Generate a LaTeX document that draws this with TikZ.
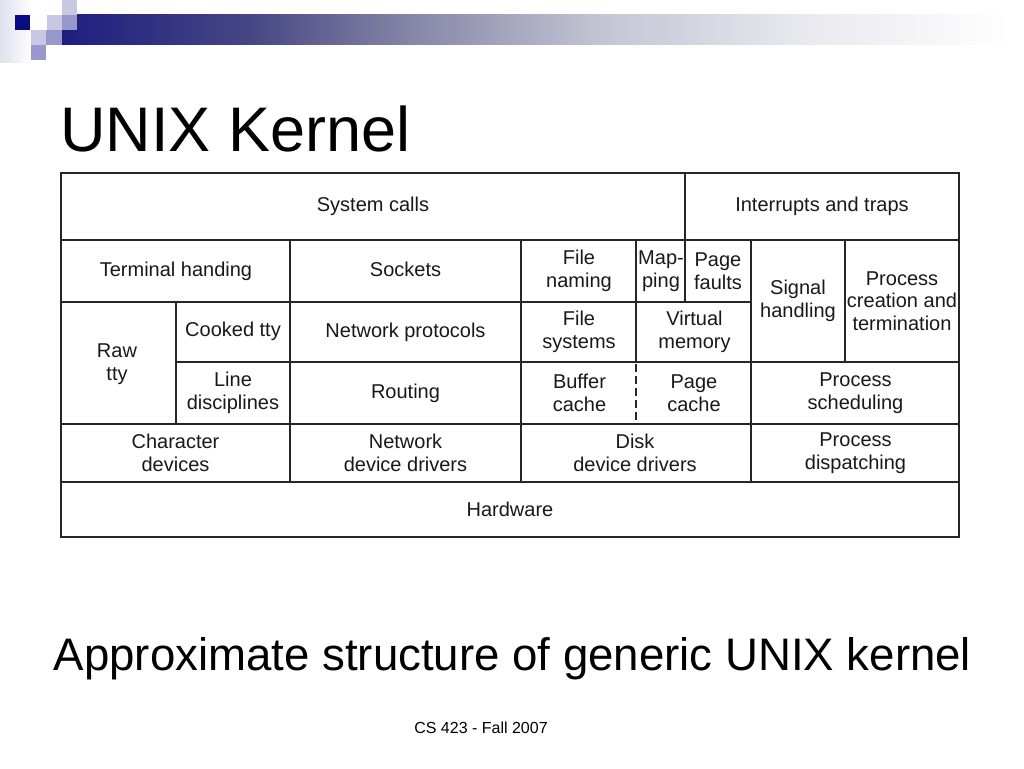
\documentclass[tikz,border=0pt]{standalone}
\usepackage{fontspec}
\setmainfont{Liberation Sans}
\definecolor{navy}{RGB}{12,12,130}
\definecolor{lav}{RGB}{200,200,226}
\definecolor{mlav}{RGB}{152,152,204}
\definecolor{faint}{RGB}{224,224,238}
\definecolor{gA}{RGB}{30,30,128}
\definecolor{gB}{RGB}{70,70,132}
\definecolor{gC}{RGB}{130,130,165}
\definecolor{gD}{RGB}{196,196,212}
\definecolor{gE}{RGB}{232,232,238}
\begin{document}
\begin{tikzpicture}[x=1pt,y=-1pt,
  cell/.style={font=\fontsize{20}{22.5}\selectfont, align=center, inner sep=0pt, text=black!90},
  grid/.style={line width=1.8pt, line cap=rect, black!85},
  ]
\useasboundingbox (0,0) rectangle (1024,768);
\fill[white] (0,0) rectangle (1024,768);
% decoration top-left
\shade[left color=faint, right color=white] (0,0) rectangle (32,62);
\shade[left color=gA, right color=gB] (62,15) rectangle (250.5,45);
\shade[left color=gB, right color=gC] (250,15) rectangle (400.5,45);
\shade[left color=gC, right color=gD] (400,15) rectangle (600.5,45);
\shade[left color=gD, right color=gE] (600,15) rectangle (800.5,45);
\shade[left color=gE, right color=white] (800,15) rectangle (1010,45);
\fill[navy] (15,15) rectangle (30,30);
\fill[lav] (62,0) rectangle (77,15);
\fill[lav] (47,15) rectangle (62,30);
\fill[mlav] (62,15) rectangle (77,30);
\fill[lav] (31,30) rectangle (46,45);
\fill[mlav] (46,30) rectangle (62,45);
\fill[mlav] (31,45) rectangle (46,60);
% title
\node[anchor=base west, inner sep=0pt, font=\fontsize{63}{70}\selectfont] (title) at (60,151) {UNIX Kernel};
% table grid
\draw[grid] (61,173) rectangle (959,537);
\draw[grid] (61,240) -- (959,240);
\draw[grid] (61,302) -- (751,302);
\draw[grid] (176,362) -- (959,362);
\draw[grid] (61,424) -- (959,424);
\draw[grid] (61,482) -- (959,482);
\draw[grid] (685,173) -- (685,302);
\draw[grid] (290,240) -- (290,482);
\draw[grid] (176,302) -- (176,424);
\draw[grid] (521,240) -- (521,482);
\draw[grid] (636,240) -- (636,362);
\draw[line width=1.2pt, black!85, dash pattern=on 8pt off 4pt] (636,364) -- (636,424);
\draw[grid] (751,240) -- (751,482);
\draw[grid] (845,240) -- (845,362);
% cell texts
\node[cell] (sys) at (373,206.5) {System calls};
\node[cell] (intr) at (822,206.5) {Interrupts and traps};
\node[cell] (term) at (176,271) {Terminal handing};
\node[cell] (sock) at (405.5,269) {Sockets};
\node[cell] (fnam) at (579,271) {File\\naming};
\node[cell] (mapp) at (661,271) {Map-\\ping};
\node[cell] (pfau) at (718,271) {Page\\faults};
\node[cell] (sig) at (798,301) {Signal\\handling};
\node[cell] (proc) at (902,301) {Process\\creation and\\termination};
\node[cell] (raw) at (117,364) {Raw\\tty};
\node[cell] (cook) at (233,331) {Cooked tty};
\node[cell] (nprot) at (405.5,332) {Network protocols};
\node[cell] (fsys) at (579,332) {File\\systems};
\node[cell] (vmem) at (694.5,332) {Virtual\\memory};
\node[cell] (ldisc) at (233,393) {Line\\disciplines};
\node[cell] (rout) at (405.5,393) {Routing};
\node[cell] (buf) at (579.5,393) {Buffer\\cache};
\node[cell] (pcache) at (694,393) {Page\\cache};
\node[cell] (psched) at (855.5,393) {Process\\scheduling};
\node[cell] (chdev) at (175.5,453) {Character\\devices};
\node[cell] (ndev) at (405.5,453) {Network\\device drivers};
\node[cell] (ddev) at (635,453) {Disk\\device drivers};
\node[cell] (pdisp) at (855.5,453) {Process\\dispatching};
\node[cell] (hw) at (510,509.5) {Hardware};
% caption and footer
\node[anchor=base, inner sep=0pt, font=\fontsize{45.6}{50}\selectfont] (cap) at (512.5,670) {Approximate structure of generic UNIX kernel};
\node[anchor=base, inner sep=0pt, font=\fontsize{16}{18}\selectfont] (foot) at (481,733) {CS 423 - Fall 2007};
\end{tikzpicture}
\end{document}
